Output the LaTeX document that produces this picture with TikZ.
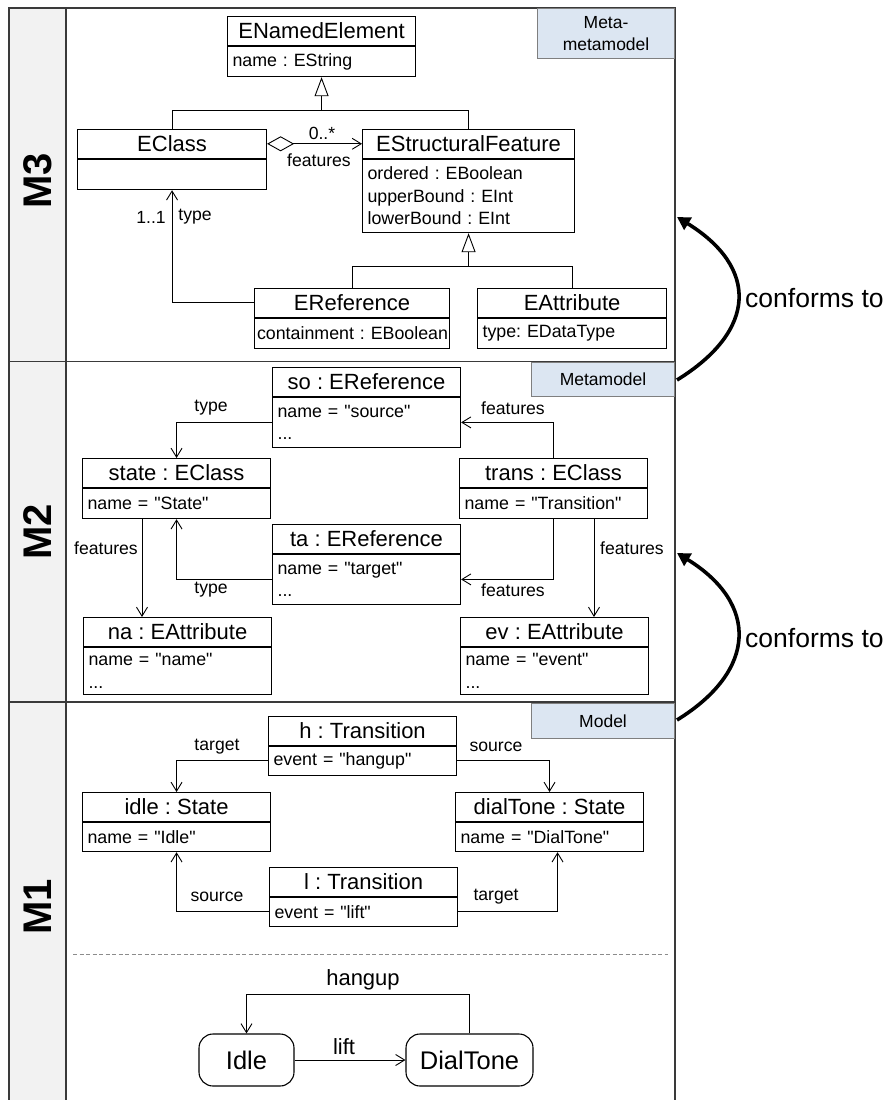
\documentclass[tikz,border=0pt]{standalone}
\usepackage{fontspec}
\setmainfont{Liberation Sans}[Ligatures=TeXOff]
\setsansfont{Liberation Sans}[Ligatures=TeXOff]
\usetikzlibrary{arrows.meta,calc}
\frenchspacing

\definecolor{framegray}{HTML}{3A3A3A}
\definecolor{lanefill}{HTML}{F2F2F2}
\definecolor{tagfill}{HTML}{DCE6F2}
\definecolor{tagline}{HTML}{7F7F7F}
\definecolor{dashgray}{HTML}{8C8C8C}

\tikzset{
  umlhead/.style={draw=black, line width=1.1pt, minimum height=28.5pt, inner sep=0pt,
    anchor=north west, font=\fontsize{22}{26}\selectfont},
  umlbody/.style={draw=black, line width=1.1pt, inner xsep=5pt, inner ysep=0pt, align=left,
    anchor=north, font=\fontsize{17.8}{22.5}\selectfont},
  edgelabel/.style={inner sep=0pt, font=\fontsize{17.6}{20}\selectfont},
  assoc/.style={line width=0.9pt, -{Straight Barb[length=9pt,width=11pt]}},
  aggr/.style={line width=0.9pt, {Diamond[open,length=27pt,width=15pt]}-{Straight Barb[length=9pt,width=11pt]}},
  genline/.style={line width=0.9pt},
  gentip/.style={line width=0.9pt, -{Triangle[open,length=19pt,width=14pt]}},
  tagbox/.style={draw=tagline, fill=tagfill, line width=0.9pt, anchor=north east, inner sep=0pt,
    align=center, font=\fontsize{17.5}{22}\selectfont},
  layername/.style={rotate=90, inner sep=0pt, font=\fontsize{40}{40}\selectfont\bfseries},
  statebox/.style={draw=black, line width=1.1pt, rounded corners=14pt, minimum height=52pt,
    inner sep=0pt, font=\fontsize{25.5}{30}\selectfont},
  statelabel/.style={inner sep=0pt, font=\fontsize{22}{26}\selectfont},
  conform/.style={line width=3.6pt, -{Triangle[length=13pt,width=14pt]}},
  conformlabel/.style={anchor=west, inner sep=0pt, font=\fontsize{26.5}{30}\selectfont},
  lanerule/.style={draw=framegray, line width=1.1pt},
}

\begin{document}
\begin{tikzpicture}[x=1pt,y=-1pt]
\useasboundingbox (0,0) rectangle (887,1100);

% layer frame with the name column on the left
\fill[lanefill] (9,8) rectangle (66,1106);
\draw[lanerule] (9,1106) -- (9,8) -- (675,8) -- (675,1106);
\draw[lanerule] (66,8) -- (66,1106);
\draw[lanerule] (9,361.5) -- (675,361.5);
\draw[lanerule] (9,702) -- (675,702);

\node[layername] (m3) at (37.5,181) {M3};
\node[layername] (m2) at (37.5,532) {M2};
\node[layername] (m1) at (37.5,907) {M1};

\node[tagbox, minimum width=137pt, minimum height=50pt] (tag3) at (675,8) {Meta-\\metamodel};
\node[tagbox, minimum width=143pt, minimum height=34pt] (tag2) at (675,362) {Metamodel};
\node[tagbox, minimum width=143pt, minimum height=35pt] (tag1) at (675,703) {Model};

% ---------- M3: Ecore core ----------
\node[umlhead, minimum width=188pt] (enh) at (227,16) {ENamedElement};
\node[umlbody, text width=178pt, minimum height=30.5pt] (enb) at (enh.south) {name : EString};

\node[umlhead, minimum width=189pt] (ech) at (77,129) {EClass};
\node[umlbody, text width=179pt, minimum height=30.5pt] (ecb) at (ech.south) {};

\node[umlhead, minimum width=212pt] (esfh) at (362,129) {EStructuralFeature};
\node[umlbody, text width=202pt, minimum height=73.5pt] (esfb) at (esfh.south)
  {ordered : EBoolean\\upperBound : EInt\\lowerBound : EInt};

\node[umlhead, minimum width=195pt] (erh) at (254,288) {EReference};
\node[umlbody, text width=190pt, inner xsep=2.5pt, minimum height=30.5pt] (erb) at (erh.south)
  {\mbox{containment : EBoolean}};

\node[umlhead, minimum width=189pt] (eah) at (477,288) {EAttribute};
\node[umlbody, text width=179pt, minimum height=30.5pt] (eab) at (eah.south) {type: EDataType};

\coordinate (g1) at ($(enb.south)+(0,33)$);
\draw[genline] (ech.north) |- (g1) -| (esfh.north);
\draw[gentip] (g1) -- (enb.south);

\coordinate (g2) at ($(esfb.south)+(0,33)$);
\draw[genline] (erh.north) |- (g2) -| (eah.north);
\draw[gentip] (g2) -- (esfb.south);

\draw[aggr] (ech.east) -- (esfh.west);
\node[edgelabel] (featmult) at (322,133) {0..*};
\node[edgelabel] (featname) at (319,160) {features};

\draw[assoc] (erh.west) -| (ecb.south);
\node[edgelabel] (typemult) at (151,217) {1..1};
\node[edgelabel] (typename) at (195,217) {type};

% ---------- M2: state machine metamodel ----------
\node[umlhead, minimum width=188pt] (soh) at (272,367) {so : EReference};
\node[umlbody, text width=178pt, minimum height=50.5pt] (sob) at (soh.south) {name = "source"\\...};

\node[umlhead, minimum width=188pt] (sth) at (82,458) {state : EClass};
\node[umlbody, text width=178pt, minimum height=30.5pt] (stb) at (sth.south) {name = "State"};

\node[umlhead, minimum width=188pt] (trh) at (459,458) {trans : EClass};
\node[umlbody, text width=178pt, minimum height=30.5pt] (trb) at (trh.south) {name = "Transition"};

\node[umlhead, minimum width=188pt] (tah) at (272,524) {ta : EReference};
\node[umlbody, text width=178pt, minimum height=50.5pt] (tab) at (tah.south) {name = "target"\\...};

\node[umlhead, minimum width=188pt] (nah) at (83,617) {na : EAttribute};
\node[umlbody, text width=178pt, minimum height=47.5pt] (nab) at (nah.south) {name = "name"\\...};

\node[umlhead, minimum width=188pt] (evh) at (460,617) {ev : EAttribute};
\node[umlbody, text width=178pt, minimum height=47.5pt] (evb) at (evh.south) {name = "event"\\...};

\draw[assoc] (sob.west) -| (sth.north);
\node[edgelabel] (sotype) at (211,408) {type};
\draw[assoc] (trh.north) |- (sob.east);
\node[edgelabel] (sofeat) at (513,408) {features};
\draw[assoc] (tab.west) -| (stb.south);
\node[edgelabel] (tatype) at (211,590) {type};
\draw[assoc] (trb.south) |- (tab.east);
\node[edgelabel] (tafeat) at (513,590) {features};

\coordinate (stfeat) at ([xshift=60pt]stb.south west);
\draw[assoc] (stfeat) -- (stfeat |- nah.north);
\node[edgelabel] (nafeat) at (106,548) {features};
\coordinate (trfeat) at ([xshift=135pt]trb.south west);
\draw[assoc] (trfeat) -- (trfeat |- evh.north);
\node[edgelabel] (evfeat) at (632,548) {features};

% ---------- M1: telephone model ----------
\node[umlhead, minimum width=188pt] (hh) at (268,716) {h : Transition};
\node[umlbody, text width=178pt, minimum height=29.5pt] (hb) at (hh.south) {event = "hangup"};

\node[umlhead, minimum width=188pt] (idh) at (82,792) {idle : State};
\node[umlbody, text width=178pt, minimum height=29.5pt] (idb) at (idh.south) {name = "Idle"};

\node[umlhead, minimum width=188pt] (dth) at (455,792) {dialTone : State};
\node[umlbody, text width=178pt, minimum height=29.5pt] (dtb) at (dth.south) {name = "DialTone"};

\node[umlhead, minimum width=188pt] (lh) at (269,867) {l : Transition};
\node[umlbody, text width=178pt, minimum height=29.5pt] (lb) at (lh.south) {event = "lift"};

\draw[assoc] (hb.west) -| (idh.north);
\node[edgelabel] (htarget) at (217,747) {target};
\draw[assoc] (hb.east) -| (dth.north);
\node[edgelabel] (hsource) at (496,747) {source};
\draw[assoc] (lb.west) -| (idb.south);
\node[edgelabel] (lsource) at (217,897) {source};
\coordinate (dtin) at ([xshift=8pt]dtb.south);
\draw[assoc] (lb.east) -| (dtin);
\node[edgelabel] (ltarget) at (496,897) {target};

\draw[dashgray, line width=0.9pt, dash pattern=on 4pt off 2.5pt] (73,954) -- (668,954);

% state machine of the phone
\node[statebox, minimum width=95pt] (idle) at (246.5,1060) {Idle};
\node[statebox, minimum width=127pt] (dial) at (469.5,1060) {DialTone};
\draw[assoc] (idle.east) -- (dial.west);
\node[statelabel] (liftlbl) at (344,1047) {lift};
\draw[assoc] (dial.north) -- ++(0,-39) -| (idle.north);
\node[statelabel] (hanglbl) at (363,980) {hangup};

% conformance between layers
\coordinate (c1s) at (677,380);
\coordinate (c1e) at (677,217);
\draw[conform] (c1s) .. controls (758,330) and (758,267) .. (c1e);
\node[conformlabel] (conf1) at (745,298) {conforms to};

\coordinate (c2s) at (677,720);
\coordinate (c2e) at (677,553);
\draw[conform] (c2s) .. controls (758,670) and (758,603) .. (c2e);
\node[conformlabel] (conf2) at (745,638) {conforms to};
\end{tikzpicture}
\end{document}
